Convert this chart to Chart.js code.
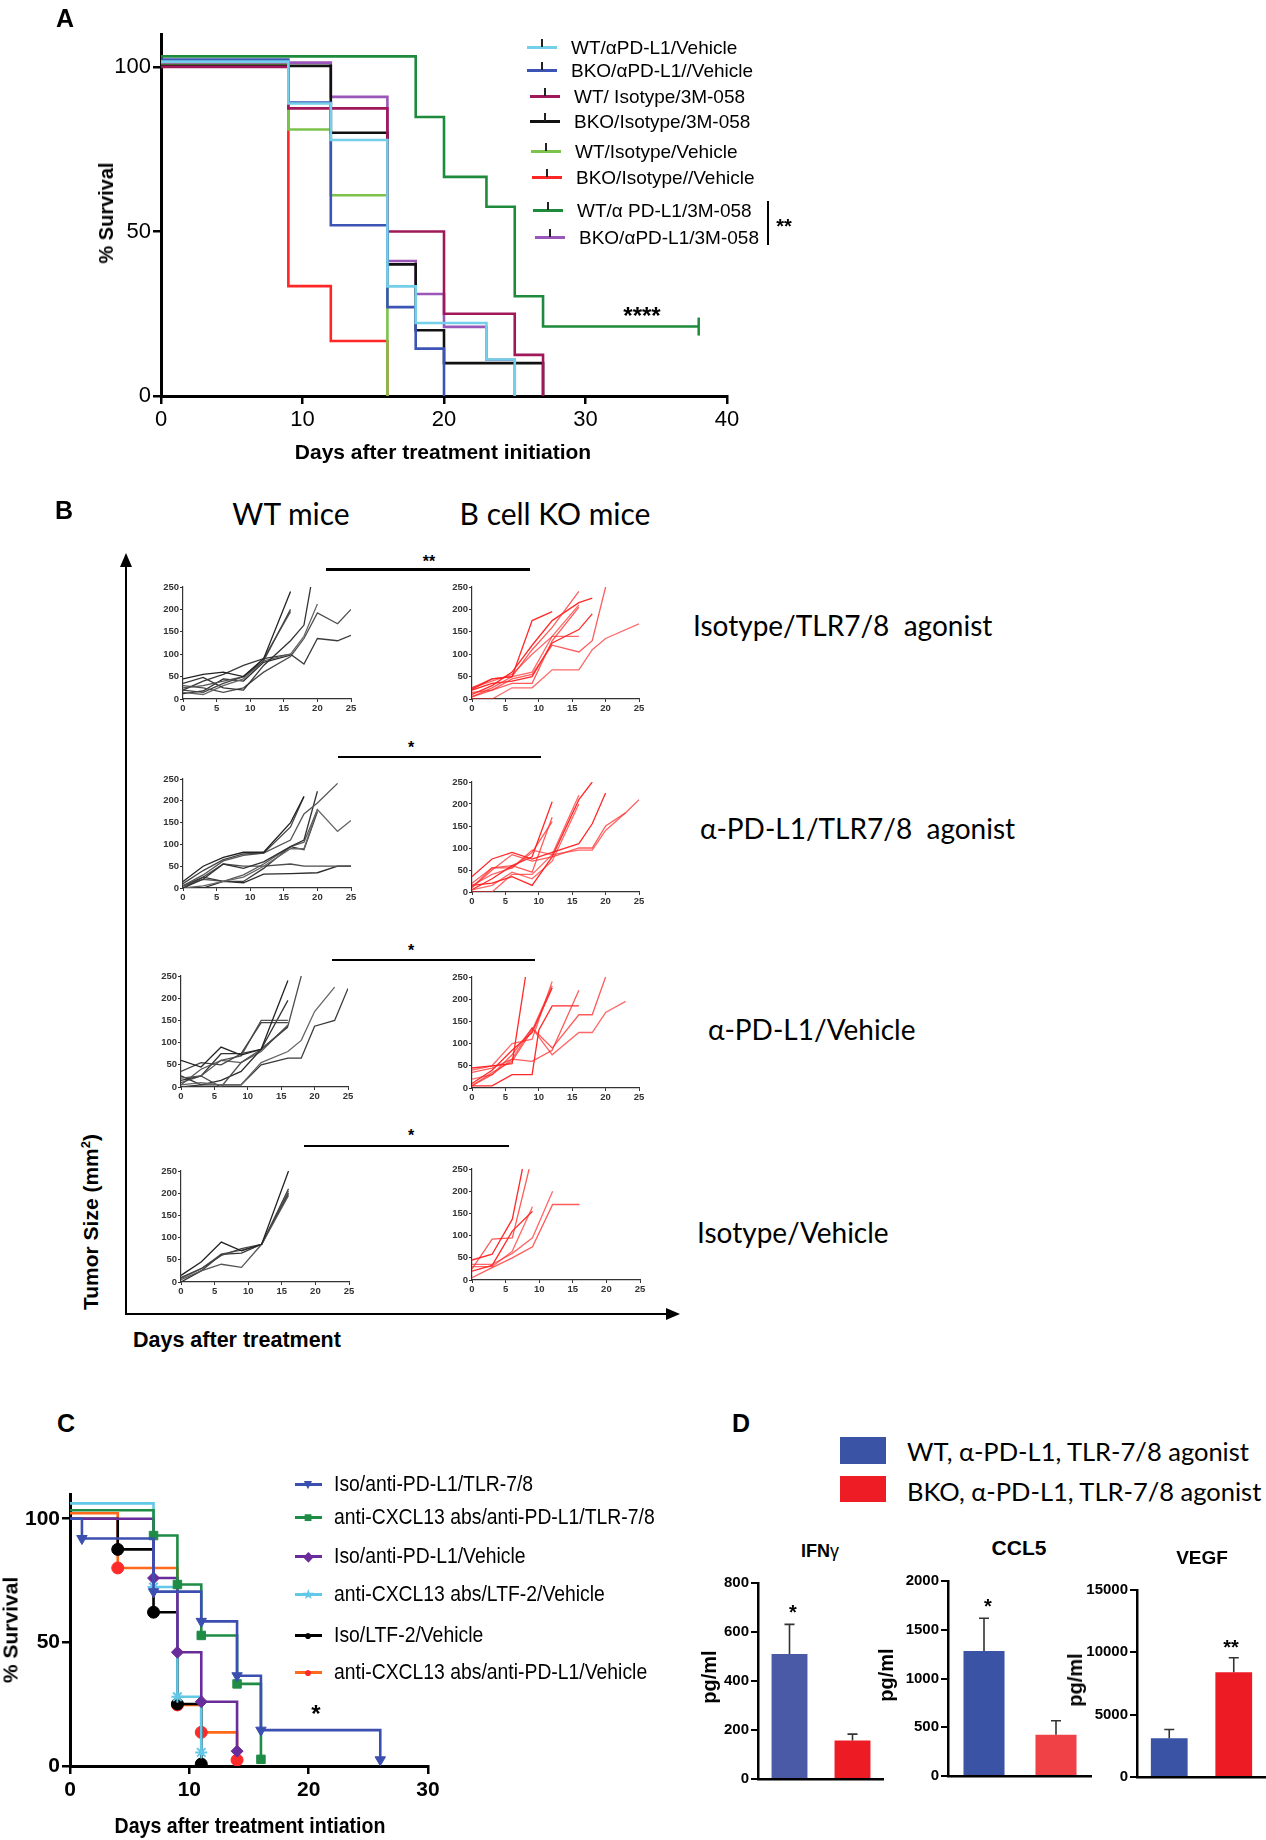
<!DOCTYPE html>
<html>
<head>
<meta charset="utf-8">
<script src="https://cdn.jsdelivr.net/npm/chart.js@4.4.0/dist/chart.umd.min.js"></script>
<style>
  body { margin: 0; background: #fff; }
  #page { position: relative; width: 1266px; height: 1840px; overflow: hidden; background: #fff; }
  canvas { position: absolute; }
  .t { position: absolute; white-space: nowrap; color: #000; line-height: 1; }
  .narrow { font-family: "Liberation Sans Narrow", "Liberation Sans", Arial, sans-serif; }
  .arial { font-family: "Liberation Sans", Arial, sans-serif; }
  .lato { font-family: Lato, "Open Sans", sans-serif; }
  .hl { position: absolute; }
</style>
</head>
<body>
<div id="page"></div>
<script>
// ---- panel A : survival ----
const labelsA = ['WT/αPD-L1/Vehicle', 'BKO/αPD-L1//Vehicle', 'WT/ Isotype/3M-058', 'BKO/Isotype/3M-058',
  'WT/Isotype/Vehicle', 'BKO/Isotype//Vehicle', 'WT/α PD-L1/3M-058', 'BKO/αPD-L1/3M-058'];
const colorsA = ['#74d0e8', '#3c55b5', '#a0185a', '#111111', '#7dc24b', '#ff2626', '#1e8b3c', '#9a56b8'];
const timesA = [
  [0, 9, 12, 16, 18, 23, 25],
  [0, 9, 12, 16, 18, 20],
  [0, 9, 16, 20, 25, 27],
  [0, 12, 16, 18, 20, 27],
  [0, 9, 12, 16],
  [0, 9, 12, 16],
  [0, 18, 20, 23, 25, 27, 38],
  [0, 12, 16, 18, 20, 23, 25]
];
const survA = [
  [101.6, 88.9, 77.8, 33.3, 22.2, 11.1, 0],
  [102.2, 89.2, 51.9, 27, 14.4, 0],
  [100, 87.4, 50, 25, 12.5, 0],
  [100.3, 80, 40, 20, 10, 0],
  [100.6, 81, 61, 0],
  [100.2, 33.4, 16.7, 0],
  [103.2, 84.8, 66.6, 57.5, 30.3, 21.1, 21.1],
  [101.3, 90.9, 41, 31, 21, 11, 0]
];
const ticksA_x = [0, 10, 20, 30, 40];
const ticksA_y = [0, 50, 100];

// ---- panel B : tumour growth, one array of [day, mm2] pairs per mouse ----
const wtIsoTlr = [
  [[0,45],[3,55],[6,60],[9,50],[12,90],[16,240]],
  [[0,20],[3,15],[6,35],[9,50],[12,85],[16,200]],
  [[0,25],[3,30],[6,40],[9,50],[12,90],[16,195]],
  [[0,35],[3,48],[6,25],[9,20],[12,75],[16,130],[18,165],[19,250]],
  [[0,15],[3,10],[6,30],[9,45],[12,85],[16,100],[18,140],[20,212]],
  [[0,20],[3,40],[6,55],[9,75],[12,90],[16,100],[18,78],[20,135],[23,130],[25,142]],
  [[0,30],[3,25],[6,15],[9,25],[12,60],[16,95],[18,135],[20,192],[23,168],[25,200]],
  [[0,12],[3,18],[6,45],[9,40],[12,82],[16,98]]
];
const koIsoTlr = [
  [[0,22],[3,45],[6,50],[9,175],[12,195]],
  [[0,5],[3,25],[6,50],[9,110],[12,160],[16,240]],
  [[0,25],[3,40],[6,55],[9,100],[12,140],[16,140]],
  [[0,10],[3,30],[6,60],[9,120],[12,175],[16,215],[18,225]],
  [[0,15],[3,20],[6,45],[9,55],[12,120],[16,105],[18,130],[20,250]],
  [[0,0],[3,0],[6,25],[9,25],[12,65],[16,65],[18,110],[20,135],[25,168]],
  [[0,20],[3,35],[6,40],[9,50],[12,125],[16,155],[18,190]],
  [[0,5],[3,20],[6,35],[9,35],[12,130],[16,205]],
  [[0,25],[3,45],[6,50],[9,60],[12,140],[16,210]]
];
const wtPdl1Tlr = [
  [[0,15],[3,50],[6,70],[9,82],[12,82],[16,150],[18,210]],
  [[0,10],[3,40],[6,65],[9,78],[12,80],[16,140],[18,210]],
  [[0,5],[3,30],[6,62],[9,75],[12,80],[16,110],[18,170],[20,195],[23,240]],
  [[0,0],[3,20],[6,55],[9,45],[12,60],[16,95],[18,110],[20,222]],
  [[0,0],[3,5],[6,15],[9,25],[12,50],[16,90],[18,90],[20,180],[23,130],[25,155]],
  [[0,5],[3,25],[6,15],[9,15],[12,45],[16,95],[18,88],[20,175]],
  [[0,0],[3,25],[6,55],[9,50],[12,50],[16,55],[18,50],[20,50],[23,50],[25,50]],
  [[0,0],[3,0],[6,15],[9,12],[12,32],[16,33],[20,35],[23,50],[25,50]],
  [[0,5],[3,20],[6,15],[9,30],[12,55],[16,95],[18,105],[20,180]]
];
const koPdl1Tlr = [
  [[0,35],[3,75],[6,90],[9,75],[12,90],[16,110],[18,155],[20,225]],
  [[0,10],[3,50],[6,85],[9,70],[12,80],[16,100],[18,100],[20,150],[23,180],[25,210]],
  [[0,15],[3,40],[6,55],[9,95],[12,85],[16,95],[18,95],[20,140],[23,180]],
  [[0,5],[3,30],[6,60],[9,80],[12,205]],
  [[0,10],[3,55],[6,60],[9,45],[12,170]],
  [[0,0],[3,0],[6,40],[9,40],[12,85],[16,220]],
  [[0,15],[3,20],[6,35],[9,15],[12,80],[16,210],[18,250]],
  [[0,20],[3,55],[6,55],[9,90],[12,160]],
  [[0,5],[3,15],[6,45],[9,30],[12,70],[16,200]]
];
const wtPdl1Veh = [
  [[0,60],[3,45],[6,90],[9,72],[12,85],[16,240]],
  [[0,35],[3,55],[6,50],[9,75],[12,145],[16,145]],
  [[0,20],[3,25],[6,60],[9,70],[12,150],[16,150]],
  [[0,15],[3,25],[6,75],[9,75],[12,85],[16,195]],
  [[0,5],[3,10],[6,5],[9,5],[12,55],[16,80],[18,105],[20,170],[23,225]],
  [[0,0],[3,5],[6,5],[9,5],[12,50],[16,65],[18,65],[20,137],[23,150],[25,222]],
  [[0,10],[3,25],[6,0],[9,55],[12,85],[16,137],[18,250]],
  [[0,25],[3,5],[6,15],[9,35],[12,85],[16,135]],
  [[0,5],[3,40],[6,60],[9,55],[12,80],[16,140]]
];
const koPdl1Veh = [
  [[0,45],[3,50],[6,55],[8,250]],
  [[0,35],[3,45],[6,65],[9,60],[12,85],[16,220]],
  [[0,20],[3,30],[6,65],[9,135],[12,75],[16,125],[18,125],[20,170],[23,195]],
  [[0,5],[3,5],[6,30],[9,30],[10,130],[12,185],[16,185]],
  [[0,5],[3,30],[6,75],[9,135],[12,90],[16,165],[18,165],[20,250]],
  [[0,40],[3,50],[6,100],[9,110],[12,240]],
  [[0,10],[3,40],[6,85],[9,125],[12,225]],
  [[0,5],[3,35],[6,60],[9,130],[12,230]]
];
const wtIsoVeh = [
  [[0,15],[3,45],[6,90],[9,70],[12,85],[16,250]],
  [[0,10],[3,30],[6,60],[9,75],[12,85],[16,210]],
  [[0,5],[3,25],[6,40],[9,33],[12,85],[16,195]],
  [[0,0],[3,25],[6,62],[9,65],[12,85],[16,200]],
  [[0,8],[3,30],[6,63],[9,72],[12,85],[16,205]]
];
const koIsoVeh = [
  [[0,45],[3,58],[6,137],[7.5,250]],
  [[0,25],[3,92],[6,95],[8.5,250]],
  [[0,30],[3,30],[6,65],[9,165]],
  [[0,20],[3,33],[6,110],[9,155]],
  [[0,5],[3,28],[6,50],[9,75],[12,170],[16,170]],
  [[0,35],[3,35],[6,60],[9,95],[12,200]]
];
const ticksB_x = [0, 5, 10, 15, 20, 25];
const ticksB_y = [0, 50, 100, 150, 200, 250];

// ---- panel C : survival with markers ----
const labelsC = ['Iso/anti-PD-L1/TLR-7/8', 'anti-CXCL13 abs/anti-PD-L1/TLR-7/8', 'Iso/anti-PD-L1/Vehicle',
  'anti-CXCL13 abs/LTF-2/Vehicle', 'Iso/LTF-2/Vehicle', 'anti-CXCL13 abs/anti-PD-L1/Vehicle'];
const timesC = [
  [0, 1, 7, 11, 14, 16, 26],
  [0, 7, 9, 11, 14, 16],
  [0, 7, 9, 11, 14],
  [0, 7, 9, 11],
  [0, 4, 7, 9, 11],
  [0, 4, 9, 11, 14]
];
const survC = [
  [100, 92, 70.5, 58.5, 36.5, 14.5, 2.5],
  [103.4, 93.2, 73.4, 52.8, 33.2, 2.7],
  [100, 76, 46, 26, 6],
  [106.2, 72.4, 28, 5.5],
  [100, 87.6, 62.2, 25.1, 0.8],
  [102.2, 80.1, 24.7, 13.6, 2.4]
];
const ticksC_x = [0, 10, 20, 30];
const ticksC_y = [0, 50, 100];

// ---- panel D : cytokines ----
const groupsD = ['WT, α-PD-L1, TLR-7/8 agonist', 'BKO, α-PD-L1, TLR-7/8 agonist'];
const ifngMean = [510, 157];
const ifngErr = [121, 26];
const ccl5Mean = [1281, 422];
const ccl5Err = [337, 144];
const vegfMean = [3100, 8400];
const vegfErr = [716, 1168];

const page = document.getElementById('page');

function txt(s, x, y, cls, css, anchor, sx) {
  const d = document.createElement('div');
  d.className = 't ' + cls;
  d.innerHTML = s;
  d.style.left = x + 'px';
  d.style.top = y + 'px';
  let tr = anchor === 'l' ? 'translate(0,-50%)' : 'translate(-50%,-50%)';
  if (anchor === 'r90') tr = 'translate(-50%,-50%) rotate(-90deg)';
  if (sx) {
    tr += ' scaleX(' + sx + ')';
    d.style.transformOrigin = anchor === 'l' ? 'left center' : 'center center';
  }
  d.style.transform = tr;
  Object.assign(d.style, css || {});
  page.appendChild(d);
  return d;
}

function box(x, y, w, h, color) {
  const d = document.createElement('div');
  d.className = 'hl';
  Object.assign(d.style, { left: x + 'px', top: y + 'px', width: w + 'px', height: h + 'px', background: color });
  page.appendChild(d);
  return d;
}

// canvas sized so that the plot area lands on (l,t)-(r,b)
function makeCanvas(l, t, r, b, yw, xh, padL, padT, padR, padB) {
  const c = document.createElement('canvas');
  const w = padL + yw + (r - l) + padR;
  const h = padT + (b - t) + xh + padB;
  c.width = w; c.height = h;
  c.style.left = (l - yw - padL) + 'px';
  c.style.top = (t - padT) + 'px';
  c.style.width = w + 'px';
  c.style.height = h + 'px';
  page.appendChild(c);
  return c;
}

function fixTicks(list) {
  return axis => { axis.ticks = list.map(v => ({ value: v })); };
}

function km(t, s) { return t.map((x, i) => ({ x: x, y: s[i] })); }

// ---------- A ----------
(function () {
  const c = makeCanvas(161, 34, 727, 396, 60, 40, 90, 18, 20, 20);
  const datasets = timesA.map((t, i) => ({
    data: km(t, survA[i]),
    borderColor: colorsA[i],
    borderWidth: 2.6,
    stepped: 'before',
    fill: false,
    pointStyle: 'line',
    rotation: 90,
    pointBorderColor: colorsA[i],
    pointBorderWidth: 2.5,
    pointRadius: ctx => (i === 6 && ctx.dataIndex === t.length - 1 ? 9 : 0)
  }));
  new Chart(c, {
    type: 'line',
    data: { datasets },
    options: {
      responsive: false, animation: false,
      layout: { padding: { left: 90, top: 18, right: 20, bottom: 20 } },
      plugins: { legend: { display: false }, tooltip: { enabled: false } },
      scales: {
        x: {
          type: 'linear', min: 0, max: 40,
          afterBuildTicks: fixTicks(ticksA_x),
          afterFit: s => { s.height = 40; },
          ticks: { color: '#000', padding: 3, font: { family: 'Liberation Sans Narrow, Liberation Sans', size: 22 } },
          grid: { drawOnChartArea: false, tickLength: 8, color: '#000', lineWidth: 2.5 },
          border: { color: '#000', width: 3 }
        },
        y: {
          min: 0, max: 110,
          afterBuildTicks: fixTicks(ticksA_y),
          afterFit: s => { s.width = 60; },
          ticks: { color: '#000', padding: 2, font: { family: 'Liberation Sans Narrow, Liberation Sans', size: 22 } },
          grid: { drawOnChartArea: false, tickLength: 8, color: '#000', lineWidth: 2.5 },
          border: { color: '#000', width: 3 }
        }
      }
    }
  });
  txt('A', 65, 18, 'arial', { fontSize: '25px', fontWeight: 'bold' });
  txt('% Survival', 106, 213, 'arial', { fontSize: '20px', fontWeight: 'bold' }, 'r90');
  txt('Days after treatment initiation', 443, 451, 'arial', { fontSize: '21px', fontWeight: 'bold' });
  txt('****', 642, 316, 'arial', { fontSize: '24px', fontWeight: 'bold' });
  // legend
  const ly = [47, 70, 96, 121, 151, 177, 210, 237];
  const lx = [527, 527, 530, 530, 531, 532, 533, 535];
  labelsA.forEach((s, i) => {
    box(lx[i], ly[i] - 1.5, 30, 3, colorsA[i]);
    box(lx[i] + 14, ly[i] - 8, 2, 8, '#222');
    txt(s, lx[i] + 44, ly[i], 'narrow', { fontSize: '19px' }, 'l');
  });
  box(767, 201, 2, 44, '#000');
  txt('**', 784, 226, 'arial', { fontSize: '20px', fontWeight: 'bold' });
})();

// ---------- B ----------
const grays = ['#222', '#444', '#555', '#333', '#666', '#3a3a3a', '#4d4d4d', '#2b2b2b', '#5a5a5a'];
function makeSmall(area, mice, red) {
  const c = makeCanvas(area[0], area[1], area[2], area[3], 30, 16, 0, 8, 8, 0);
  const datasets = mice.map((m, i) => ({
    data: m.map(p => ({ x: p[0], y: p[1] })),
    borderColor: red ? (i % 3 === 0 ? 'rgba(255,30,30,0.95)' : (i % 3 === 1 ? 'rgba(255,50,50,0.8)' : 'rgba(255,40,40,0.7)')) : grays[i % grays.length],
    borderWidth: 1.3,
    pointRadius: 0,
    fill: false
  }));
  const tickFont = { family: 'Liberation Sans', size: 9.5, weight: 'bold' };
  new Chart(c, {
    type: 'line',
    data: { datasets },
    options: {
      responsive: false, animation: false,
      layout: { padding: { left: 0, top: 8, right: 8, bottom: 0 } },
      plugins: { legend: { display: false }, tooltip: { enabled: false } },
      scales: {
        x: {
          type: 'linear', min: 0, max: 25,
          afterBuildTicks: fixTicks(ticksB_x),
          afterFit: s => { s.height = 16; },
          ticks: { color: '#333', padding: 1, font: tickFont },
          grid: { drawOnChartArea: false, tickLength: 3, color: '#333', lineWidth: 1 },
          border: { color: '#333', width: 1.2 }
        },
        y: {
          min: 0, max: 250,
          afterBuildTicks: fixTicks(ticksB_y),
          afterFit: s => { s.width = 30; },
          ticks: { color: '#333', padding: 1, font: tickFont },
          grid: { drawOnChartArea: false, tickLength: 3, color: '#333', lineWidth: 1 },
          border: { color: '#333', width: 1.2 }
        }
      }
    }
  });
}
makeSmall([183, 587, 351, 699], wtIsoTlr, false);
makeSmall([472, 587, 639, 699], koIsoTlr, true);
makeSmall([183, 779, 351, 888], wtPdl1Tlr, false);
makeSmall([472, 782, 639, 892], koPdl1Tlr, true);
makeSmall([181, 976, 348, 1087], wtPdl1Veh, false);
makeSmall([472, 977, 639, 1088], koPdl1Veh, true);
makeSmall([181, 1171, 349, 1282], wtIsoVeh, false);
makeSmall([472, 1169, 640, 1280], koIsoVeh, true);

txt('B', 64, 510, 'arial', { fontSize: '25px', fontWeight: 'bold' });
txt('WT mice', 291, 513, 'lato', { fontSize: '30px' });
txt('B cell KO mice', 555, 513, 'lato', { fontSize: '30px' });
// big axes with arrows
box(125, 565, 2, 750, '#000');
box(125, 1313, 545, 2, '#000');
(function () {
  const up = document.createElement('div');
  Object.assign(up.style, { position: 'absolute', left: '120px', top: '553px', width: 0, height: 0,
    borderLeft: '6px solid transparent', borderRight: '6px solid transparent', borderBottom: '14px solid #000' });
  page.appendChild(up);
  const rt = document.createElement('div');
  Object.assign(rt.style, { position: 'absolute', left: '666px', top: '1308px', width: 0, height: 0,
    borderTop: '6px solid transparent', borderBottom: '6px solid transparent', borderLeft: '14px solid #000' });
  page.appendChild(rt);
})();
txt('Tumor Size (mm<sup style="font-size:13px">2</sup>)', 90, 1222, 'arial', { fontSize: '21px', fontWeight: 'bold' }, 'r90');
txt('Days after treatment', 133, 1341, 'arial', { fontSize: '21.5px', fontWeight: 'bold' }, 'l');
box(326, 568, 204, 3, '#000');
txt('**', 429, 562, 'arial', { fontSize: '16px', fontWeight: 'bold' });
box(338, 756, 203, 1.5, '#000');
txt('*', 411, 748, 'arial', { fontSize: '16px', fontWeight: 'bold' });
box(332, 959, 203, 1.5, '#000');
txt('*', 411, 951, 'arial', { fontSize: '16px', fontWeight: 'bold' });
box(304, 1145, 205, 1.5, '#000');
txt('*', 411, 1136, 'arial', { fontSize: '16px', fontWeight: 'bold' });
txt('Isotype/TLR7/8&nbsp; agonist', 693, 625, 'lato', { fontSize: '28px' }, 'l');
txt('α-PD-L1/TLR7/8&nbsp; agonist', 700, 828, 'lato', { fontSize: '28px' }, 'l');
txt('α-PD-L1/Vehicle', 708, 1029, 'lato', { fontSize: '28px' }, 'l');
txt('Isotype/Vehicle', 697, 1232, 'lato', { fontSize: '28px' }, 'l');

// ---------- C ----------
const lineC = ['#3b4fb0', '#1e8c45', '#6a2c9a', '#62c8e8', '#000000', '#ff6a1a'];
const markC = ['#3b4fb0', '#1e8c45', '#6a2c9a', '#62c8e8', '#000000', '#ff2a2a'];
const shapeC = ['triangle', 'rect', 'rectRot', 'star', 'circle', 'circle'];
const rotC = [180, 0, 0, 0, 0, 0];
(function () {
  const c = makeCanvas(70, 1494, 428, 1766, 70, 40, 0, 20, 30, 34);
  const datasets = timesC.map((t, i) => ({
    data: km(t, survC[i]),
    borderColor: lineC[i],
    borderWidth: 2.6,
    stepped: 'before',
    fill: false,
    pointStyle: shapeC[i],
    rotation: rotC[i],
    pointBackgroundColor: markC[i],
    pointBorderColor: markC[i],
    pointBorderWidth: shapeC[i] === 'star' ? 2 : 1,
    pointRadius: ctx => (ctx.dataIndex === 0 ? 0 : 6)
  }));
  new Chart(c, {
    type: 'line',
    data: { datasets },
    options: {
      responsive: false, animation: false,
      layout: { padding: { left: 0, top: 20, right: 30, bottom: 34 } },
      plugins: { legend: { display: false }, tooltip: { enabled: false } },
      scales: {
        x: {
          type: 'linear', min: 0, max: 30,
          afterBuildTicks: fixTicks(ticksC_x),
          afterFit: s => { s.height = 40; },
          ticks: { color: '#000', padding: 4, font: { family: 'Liberation Sans Narrow, Liberation Sans', size: 21, weight: 'bold' } },
          grid: { drawOnChartArea: false, tickLength: 8, color: '#000', lineWidth: 2.5 },
          border: { color: '#000', width: 3 }
        },
        y: {
          min: 0, max: 110,
          afterBuildTicks: fixTicks(ticksC_y),
          afterFit: s => { s.width = 70; },
          ticks: { color: '#000', padding: 2, font: { family: 'Liberation Sans Narrow, Liberation Sans', size: 21, weight: 'bold' } },
          grid: { drawOnChartArea: false, tickLength: 8, color: '#000', lineWidth: 2.5 },
          border: { color: '#000', width: 3 }
        }
      }
    }
  });
  txt('C', 66, 1423, 'arial', { fontSize: '25px', fontWeight: 'bold' });
  txt('% Survival', 10, 1630, 'narrow', { fontSize: '21px', fontWeight: 'bold' }, 'r90');
  txt('Days after treatment intiation', 250, 1826, 'narrow', { fontSize: '22px', fontWeight: 'bold' }, 'c', 0.89);
  txt('*', 316, 1714, 'arial', { fontSize: '24px', fontWeight: 'bold' });
  const ly = [1484, 1517, 1556, 1594, 1635, 1672];
  const sym = ['▼', '■', '◆', '★', '●', '●'];
  labelsC.forEach((s, i) => {
    box(295, ly[i] - 1.5, 27, 3, lineC[i]);
    txt(sym[i], 308, ly[i], 'arial', { fontSize: '14px', color: markC[i] });
    txt(s, 334, ly[i], 'narrow', { fontSize: '22px' }, 'l', 0.88);
  });
})();

// ---------- D ----------
const errPlugin = {
  id: 'errbars',
  afterDatasetsDraw(chart, args, opts) {
    const g = chart.ctx;
    const meta = chart.getDatasetMeta(0);
    const ys = chart.scales.y;
    g.save();
    g.strokeStyle = '#333';
    g.lineWidth = 1.6;
    meta.data.forEach((bar, i) => {
      const top = ys.getPixelForValue(opts.mean[i] + opts.err[i]);
      g.beginPath();
      g.moveTo(bar.x, bar.y);
      g.lineTo(bar.x, top);
      g.moveTo(bar.x - 5, top);
      g.lineTo(bar.x + 5, top);
      g.stroke();
    });
    g.restore();
  }
};
function makeBar(area, yw, mean, err, max, step, colors) {
  const c = makeCanvas(area[0], area[1], area[2], area[3], yw, 4, 0, 10, 0, 10);
  const ticks = [];
  for (let v = 0; v <= max; v += step) ticks.push(v);
  new Chart(c, {
    type: 'bar',
    data: { labels: ['WT', 'BKO'], datasets: [{ data: mean, backgroundColor: colors, borderWidth: 0, barPercentage: 0.57, categoryPercentage: 1 }] },
    plugins: [errPlugin],
    options: {
      responsive: false, animation: false,
      layout: { padding: { left: 0, top: 10, right: 0, bottom: 10 } },
      plugins: { legend: { display: false }, tooltip: { enabled: false }, errbars: { mean: mean, err: err } },
      scales: {
        x: {
          afterFit: s => { s.height = 4; },
          ticks: { display: false },
          grid: { display: false },
          border: { color: '#000', width: 2.5 }
        },
        y: {
          min: 0, max: max,
          afterBuildTicks: fixTicks(ticks),
          afterFit: s => { s.width = yw; },
          ticks: { color: '#000', padding: 2, font: { family: 'Liberation Sans', size: 15, weight: 'bold' }, callback: v => String(v) },
          grid: { drawOnChartArea: false, tickLength: 7, color: '#000', lineWidth: 2 },
          border: { color: '#000', width: 2.5 }
        }
      }
    }
  });
}
makeBar([758, 1582, 884, 1779], 44, ifngMean, ifngErr, 800, 200, ['#4a5aa6', '#ed1c24']);
makeBar([948, 1580, 1092, 1776], 52, ccl5Mean, ccl5Err, 2000, 500, ['#3a53a4', '#ef4146']);
makeBar([1137, 1589, 1266, 1777], 56, vegfMean, vegfErr, 15000, 5000, ['#3a53a4', '#ed1c24']);

txt('D', 741, 1423, 'arial', { fontSize: '25px', fontWeight: 'bold' });
box(840, 1437, 46, 27, '#3a53a4');
box(840, 1476, 46, 26, '#ee1c25');
txt(groupsD[0], 907, 1452, 'lato', { fontSize: '25.5px' }, 'l');
txt(groupsD[1], 907, 1492, 'lato', { fontSize: '25.5px' }, 'l');
txt('IFN<span style="font-weight:normal">γ</span>', 820, 1551, 'arial', { fontSize: '18px', fontWeight: 'bold' });
txt('CCL5', 1019, 1547, 'arial', { fontSize: '21px', fontWeight: 'bold' });
txt('VEGF', 1202, 1557, 'arial', { fontSize: '19px', fontWeight: 'bold' });
txt('pg/ml', 709, 1677, 'arial', { fontSize: '20px', fontWeight: 'bold' }, 'r90');
txt('pg/ml', 886, 1675, 'arial', { fontSize: '20px', fontWeight: 'bold' }, 'r90');
txt('pg/ml', 1075, 1680, 'arial', { fontSize: '20px', fontWeight: 'bold' }, 'r90');
txt('*', 793, 1612, 'arial', { fontSize: '20px', fontWeight: 'bold' });
txt('*', 988, 1606, 'arial', { fontSize: '20px', fontWeight: 'bold' });
txt('**', 1231, 1647, 'arial', { fontSize: '20px', fontWeight: 'bold' });
</script>
</body>
</html>
